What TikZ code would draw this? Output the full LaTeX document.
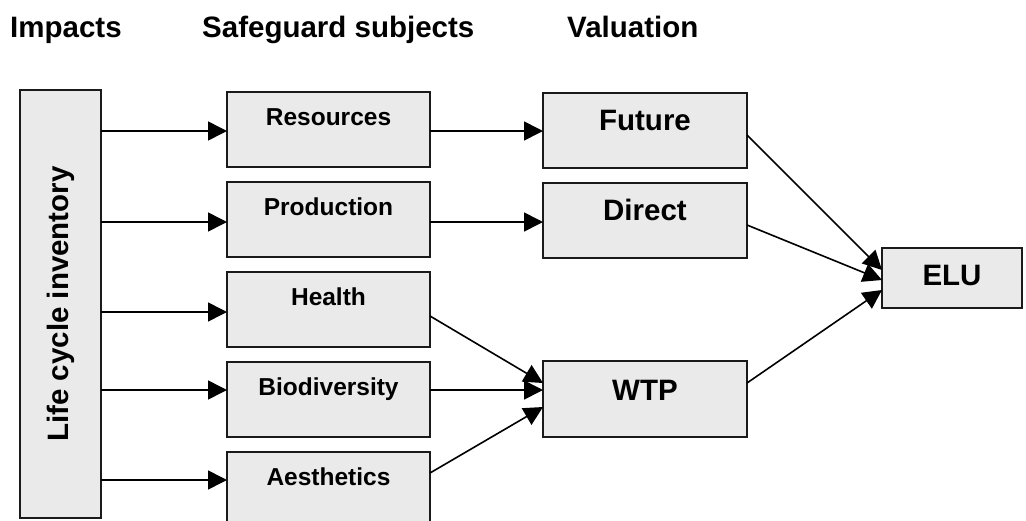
\documentclass[tikz,border=0pt]{standalone}
\usepackage{fontspec}
\setmainfont{Liberation Sans}
\usetikzlibrary{arrows.meta}
\definecolor{boxfill}{HTML}{EAEAEA}
\definecolor{boxline}{HTML}{1A1A1A}
\begin{document}
\begin{tikzpicture}[x=1pt,y=-1pt,
  box/.style={draw=boxline, fill=boxfill, line width=1.7pt, inner sep=0pt, outer sep=0pt},
  hdr/.style={font=\bfseries\fontsize{29.5}{32}\selectfont, anchor=base west, inner sep=0pt},
  sglab/.style={font=\bfseries\fontsize{24.5}{28}\selectfont, anchor=base, inner sep=0pt},
  vallab/.style={font=\bfseries\fontsize{29.5}{32}\selectfont, anchor=base, inner sep=0pt},
  arr/.style={line width=1.6pt, -{Triangle[length=19pt,width=19pt]}}]
\useasboundingbox[fill=white] (0,0) rectangle (1026,520);
% headers
\node[hdr] (h1) at (10,37) {Impacts};
\node[hdr] (h2) at (202,37) {Safeguard subjects};
\node[hdr] (h3) at (567,37) {Valuation};
% left box
\node[box, minimum width=81pt, minimum height=428pt] (lci) at (60.5,304) {};
\node[font=\bfseries\fontsize{29.5}{32}\selectfont, rotate=90, inner sep=0pt] (lcit) at (lci.center) {Life cycle inventory};
% safeguard boxes
\node[box, minimum width=203pt, minimum height=75pt] (res) at (328.5,129.5) {};
\node[box, minimum width=203pt, minimum height=75pt] (pro) at (328.5,219.5) {};
\node[box, minimum width=203pt, minimum height=75pt] (hea) at (328.5,309.5) {};
\node[box, minimum width=203pt, minimum height=75pt] (bio) at (328.5,399.5) {};
\node[box, minimum width=203pt, minimum height=75pt] (aes) at (328.5,489.5) {};
\node[sglab] (rest) at ([yshift=-33.7pt]res.north) {Resources};
\node[sglab] (prot) at ([yshift=-33.7pt]pro.north) {Production};
\node[sglab] (heat) at ([yshift=-33.7pt]hea.north) {Health};
\node[sglab] (biot) at ([yshift=-33.7pt]bio.north) {Biodiversity};
\node[sglab] (aest) at ([yshift=-33.7pt]aes.north) {Aesthetics};
% valuation boxes
\node[box, minimum width=204pt, minimum height=75pt] (fut) at (645,130.2) {};
\node[box, minimum width=204pt, minimum height=75pt] (dir) at (645,220.2) {};
\node[box, minimum width=204pt, minimum height=76pt] (wtp) at (645,399) {};
\node[box, minimum width=140pt, minimum height=60pt] (elu) at (952,278) {};
\node[vallab] (futt) at ([yshift=-37.5pt]fut.north) {Future};
\node[vallab] (dirt) at ([yshift=-37.5pt]dir.north) {Direct};
\node[vallab] (wtpt) at ([yshift=-39pt]wtp.north) {WTP};
\node[vallab] (elut) at ([yshift=-37pt]elu.north) {ELU};
% connectors: impacts -> safeguard subjects
\draw[arr] (lci.east |- 0,131) -- (res.west |- 0,131);
\draw[arr] (lci.east |- 0,222) -- (pro.west |- 0,222);
\draw[arr] (lci.east |- 0,312) -- (hea.west |- 0,312);
\draw[arr] (lci.east |- 0,390) -- (bio.west |- 0,390);
\draw[arr] (lci.east |- 0,480) -- (aes.west |- 0,480);
% safeguard -> valuation
\draw[arr] (res.east |- 0,131) -- (fut.west |- 0,131);
\draw[arr] (pro.east |- 0,222) -- (dir.west |- 0,222);
\draw[arr] (hea.east |- 0,316) -- (wtp.west |- 0,383);
\draw[arr] (bio.east |- 0,390) -- (wtp.west |- 0,390);
\draw[arr] (aes.east |- 0,473) -- (wtp.west |- 0,407);
% valuation -> ELU
\draw[arr] (fut.east |- 0,135) -- (elu.west |- 0,270);
\draw[arr] (dir.east |- 0,225) -- (elu.west |- 0,280);
\draw[arr] (wtp.east |- 0,383) -- (elu.west |- 0,290);
\end{tikzpicture}
\end{document}
